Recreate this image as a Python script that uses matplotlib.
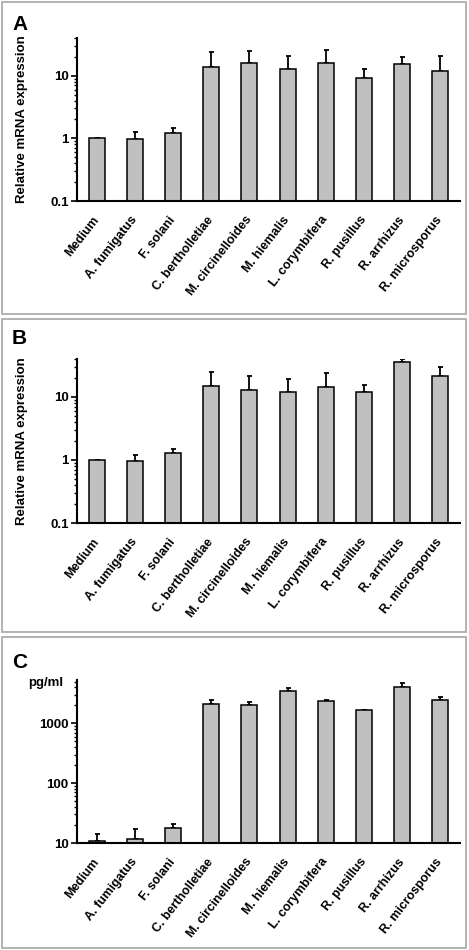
import matplotlib
matplotlib.use("Agg")
import matplotlib.pyplot as plt
import matplotlib.transforms as mtransforms
from matplotlib.patches import Rectangle
from matplotlib.ticker import LogLocator, FixedLocator, NullFormatter
import numpy as np

plt.rcParams['font.family'] = ['Liberation Sans', 'DejaVu Sans']
plt.rcParams['font.weight'] = 'bold'

# data
strains = ['Medium', 'A. fumigatus', 'F. solani', 'C. bertholletiae', 'M. circinelloides',
           'M. hiemalis', 'L. corymbifera', 'R. pusillus', 'R. arrhizus', 'R. microsporus']

# panel A: relative mRNA expression (mean, upper end of error bar)
a_mean = [1.0, 0.98, 1.23, 14.0, 15.9, 13.0, 15.9, 9.3, 15.3, 12.1]
a_top = [1.0, 1.245, 1.44, 24.0, 24.6, 21.0, 25.6, 12.6, 19.8, 20.5]

# panel B: relative mRNA expression
b_mean = [1.0, 0.96, 1.28, 15.1, 12.9, 12.0, 14.4, 12.2, 35.4, 21.5]
b_top = [1.0, 1.19, 1.48, 24.8, 21.8, 19.3, 24.3, 15.3, 39.8, 29.8]

# panel C: pg/ml
c_mean = [10.8, 11.5, 17.6, 2100, 2050, 3430, 2390, 1690, 4100, 2480]
c_top = [14.4, 17.1, 21.1, 2430, 2250, 3860, 2420, 1690, 4790, 2790]

W, H = 469, 950
fig = plt.figure(figsize=(W / 100, H / 100), dpi=100)


def fx(px):
    return px / W


def fy(py):
    return 1 - py / H


# gray panel frames
for top, bot in [(2, 314), (319, 632), (637, 948)]:
    fig.patches.append(Rectangle((fx(2), fy(bot)), fx(464), (bot - top) / H,
                                 transform=fig.transFigure, fill=False,
                                 edgecolor='#a6a6a6', linewidth=1.2))

shift = mtransforms.ScaledTranslation(3 / 100, 0, fig.dpi_scale_trans)


def panel(top, bot, mean, upper, ylim, ticks, ticklabels):
    ax = fig.add_axes([fx(77), fy(bot), fx(383), (bot - top) / H])
    x = np.arange(len(strains))
    mean = np.array(mean)
    err = np.array(upper) - mean
    ax.bar(x, mean - ylim[0], bottom=ylim[0], width=0.42, color='#c0c0c0',
           edgecolor='black', linewidth=1.1, zorder=2)
    ax.errorbar(x, mean, yerr=[np.zeros_like(err), err], fmt='none',
                ecolor='black', elinewidth=1.3, capsize=1.8, capthick=1.3, zorder=1)
    ax.set_yscale('log')
    ax.set_ylim(*ylim)
    ax.set_xlim(-0.52, 9.52)
    ax.yaxis.set_major_locator(FixedLocator(ticks))
    ax.set_yticklabels(ticklabels)
    ax.yaxis.set_minor_locator(LogLocator(base=10, subs=np.arange(2, 10)))
    ax.yaxis.set_minor_formatter(NullFormatter())
    ax.set_xticks(x)
    ax.set_xticklabels(strains, rotation=52, ha='right', va='center',
                       rotation_mode='anchor', fontsize=9, fontweight='bold')
    for lab in ax.get_xticklabels():
        lab.set_transform(lab.get_transform() + shift)
    ax.tick_params(axis='x', length=0, pad=12)
    ax.tick_params(axis='y', which='major', length=4, width=1.2, pad=2,
                   labelsize=9.5, direction='out')
    ax.tick_params(axis='y', which='minor', length=2.5, width=1.0, direction='out')
    for s in ['top', 'right']:
        ax.spines[s].set_visible(False)
    for s in ['left', 'bottom']:
        ax.spines[s].set_linewidth(1.5)
    for lab in ax.get_yticklabels():
        lab.set_fontweight('bold')
    return ax


axA = panel(38, 201, a_mean, a_top, (0.1, 40), [0.1, 1, 10], ['0.1', '1', '10'])
axA.set_ylabel('Relative mRNA expression', fontsize=9.5, fontweight='bold')
axA.yaxis.set_label_coords(-0.128, 0.5)

axB = panel(359, 523, b_mean, b_top, (0.1, 40), [0.1, 1, 10], ['0.1', '1', '10'])
axB.set_ylabel('Relative mRNA expression', fontsize=9.5, fontweight='bold')
axB.yaxis.set_label_coords(-0.128, 0.5)

axC = panel(680, 843, c_mean, c_top, (10, 5300), [10, 100, 1000], ['10', '100', '1000'])
axC.text(-0.037, 0.98, 'pg/ml', transform=axC.transAxes, ha='right', va='center',
         fontsize=9.5, fontweight='bold')

for letter, py in [('A', 24), ('B', 338), ('C', 662)]:
    fig.text(fx(12), fy(py), letter, ha='left', va='center', fontsize=15, fontweight='bold')

fig.savefig('out.png', dpi=100)
